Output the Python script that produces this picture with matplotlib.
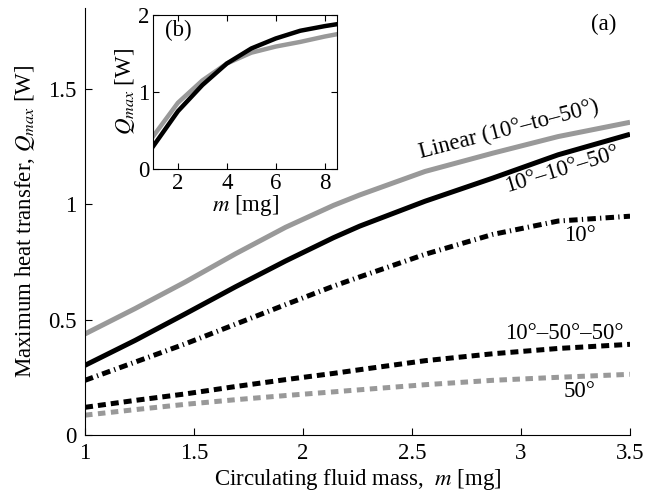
import numpy as np
import matplotlib
matplotlib.use('Agg')
import matplotlib.pyplot as plt

plt.rcParams['font.family'] = 'Liberation Serif'
plt.rcParams['mathtext.fontset'] = 'stix'

# main panel (a): heat transfer vs. circulating fluid mass
m = [1.0, 1.23, 1.46, 1.69, 1.92, 2.14, 2.26, 2.56, 2.87, 3.17, 3.5]
q_linear = [0.438, 0.548, 0.663, 0.785, 0.90, 0.995, 1.04, 1.142, 1.221, 1.293, 1.355]
q_10_10_50 = [0.302, 0.41, 0.525, 0.642, 0.754, 0.855, 0.905, 1.013, 1.113, 1.214, 1.303]
q_10 = [0.237, 0.316, 0.395, 0.48, 0.565, 0.645, 0.685, 0.783, 0.869, 0.927, 0.948]
q_10_50_50 = [0.12, 0.15, 0.178, 0.21, 0.24, 0.267, 0.283, 0.322, 0.352, 0.375, 0.393]
q_50 = [0.086, 0.11, 0.133, 0.153, 0.171, 0.187, 0.196, 0.218, 0.237, 0.25, 0.263]

# inset (b)
m_b = [1.0, 2.0, 3.0, 4.0, 5.0, 6.0, 7.0, 8.0, 8.5]
qb_black = [0.30, 0.75, 1.09, 1.37, 1.565, 1.695, 1.795, 1.855, 1.88]
qb_gray = [0.43, 0.86, 1.15, 1.37, 1.51, 1.59, 1.65, 1.72, 1.75]

xticks = [1, 1.5, 2, 2.5, 3, 3.5]
xtick_labels = ['1', '1.5', '2', '2.5', '3', '3.5']
yticks = [0, 0.5, 1, 1.5]
ytick_labels = ['0', '0.5', '1', '1.5']

gray = '#999999'
fs = 16.5

fig = plt.figure(figsize=(6.46, 4.94), dpi=100)
ax = fig.add_axes([0.1316, 0.1194, 0.8437, 0.8644])

ax.plot(m, q_linear, color=gray, lw=3.6, solid_capstyle='butt', solid_joinstyle='round')
ax.plot(m, q_10_10_50, color='k', lw=3.6, solid_capstyle='butt', solid_joinstyle='round')
ax.plot(m, q_10, color='k', lw=3.6, dashes=(1.7, 0.85, 0.25, 0.85), dash_capstyle='butt')
ax.plot(m, q_10_50_50, color='k', lw=3.6, dashes=(1.6, 1.0), dash_capstyle='butt')
ax.plot(m, q_50, color=gray, lw=3.6, dashes=(1.5, 1.1), dash_capstyle='butt')

ax.set_xlim(1, 3.5)
ax.set_ylim(0, 1.85)
ax.set_xticks(xticks)
ax.set_xticklabels(xtick_labels)
ax.set_yticks(yticks)
ax.set_yticklabels(ytick_labels)
ax.tick_params(direction='in', length=5, labelsize=fs, pad=6)
ax.spines['top'].set_visible(False)
ax.spines['right'].set_visible(False)
ax.set_xlabel('Circulating fluid mass,  $m$ [mg]', fontsize=fs, labelpad=2)
ax.set_ylabel('Maximum heat transfer, $Q_{max}$ [W]', fontsize=fs, labelpad=8)

ax.text(3.38, 1.78, '(a)', fontsize=fs, ha='center', va='center')
ax.text(2.945, 1.325, 'Linear (10°–to–50°)', fontsize=fs, ha='center', va='center', rotation=14.5)
ax.text(3.19, 1.15, '10°–10°–50°', fontsize=fs, ha='center', va='center', rotation=17)
ax.text(3.27, 0.865, '10°', fontsize=fs, ha='center', va='center')
ax.text(3.20, 0.44, '10°–50°–50°', fontsize=fs, ha='center', va='center')
ax.text(3.27, 0.19, '50°', fontsize=fs, ha='center', va='center')

# inset
axb = fig.add_axes([0.2376, 0.658, 0.284, 0.3117])
axb.plot(m_b, qb_gray, color=gray, lw=3.2, solid_joinstyle='round')
axb.plot(m_b, qb_black, color='k', lw=3.2, solid_joinstyle='round')
axb.set_xlim(1, 8.5)
axb.set_ylim(0, 2)
axb.set_xticks([2, 4, 6, 8])
axb.set_xticklabels(['2', '4', '6', '8'])
axb.set_yticks([0, 1, 2])
axb.set_yticklabels(['0', '1', '2'])
axb.tick_params(direction='in', length=4, labelsize=fs, pad=3, top=True, right=True)
axb.set_xlabel('$m$ [mg]', fontsize=fs, labelpad=-1)
axb.set_ylabel('$Q_{max}$ [W]', fontsize=fs, labelpad=1)
axb.text(2.0, 1.8, '(b)', fontsize=fs, ha='center', va='center')

fig.savefig('out.png', dpi=100)
